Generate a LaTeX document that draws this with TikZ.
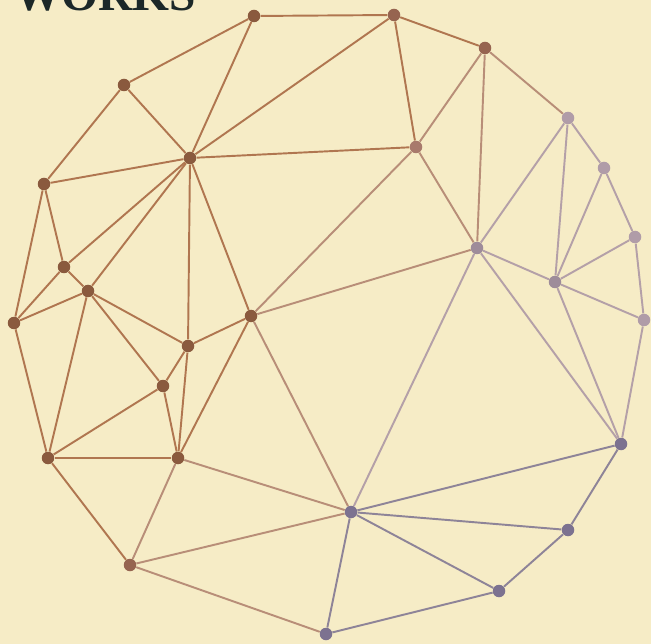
\documentclass[tikz,border=0pt]{standalone}
\usepackage{fontspec}
\newfontfamily\titlefont{Liberation Serif}
\usepackage{xcolor}
\definecolor{paper}{HTML}{F6ECC6}
\definecolor{ink}{HTML}{1C2828}
% dot colours, left to right
\definecolor{dotbrown}{HTML}{8A5A3E}
\definecolor{dotrust}{HTML}{966450}
\definecolor{dotrose}{HTML}{A87A6C}
\definecolor{dotmauve}{HTML}{9E8C9A}
\definecolor{dotpale}{HTML}{B09CA8}
\definecolor{dotslate}{HTML}{7C7290}
% line colours
\definecolor{linebrown}{HTML}{B07650}
\definecolor{linetan}{HTML}{B88E78}
\definecolor{linemauve}{HTML}{B4A0A8}
\definecolor{lineslate}{HTML}{8E8498}

\begin{document}
\begin{tikzpicture}[
    x=0.02cm, y=-0.02cm,
    dot/.style={circle, inner sep=0pt, minimum size=0.25cm, fill=#1},
    link/.style={line width=1.1pt, draw=#1}
]
\clip (0,0) rectangle (651,644);
\fill[paper] (0,0) rectangle (651,644);
\node[anchor=base west, inner sep=0pt, text=ink, font=\titlefont\bfseries\fontsize{27}{27}\selectfont] (heading) at (14,11) {WORKS};

% left part
\node[dot=dotbrown] (a) at (254,16) {};
\node[dot=dotrust] (b) at (394,15) {};
\node[dot=dotrust] (c) at (485,48) {};
\node[dot=dotbrown] (d) at (124,85) {};
\node[dot=dotbrown] (e) at (190,158) {};
\node[dot=dotrose] (f) at (416,147) {};
\node[dot=dotbrown] (k) at (44,184) {};
\node[dot=dotbrown] (n) at (64,267) {};
\node[dot=dotbrown] (o) at (88,291) {};
\node[dot=dotbrown] (p) at (14,323) {};
\node[dot=dotbrown] (q) at (251,316) {};
\node[dot=dotbrown] (r) at (188,346) {};
\node[dot=dotbrown] (s) at (163,386) {};
\node[dot=dotbrown] (t) at (48,458) {};
\node[dot=dotbrown] (u) at (178,458) {};
\node[dot=dotrust] (y) at (130,565) {};
% right part
\node[dot=dotpale] (g) at (568,118) {};
\node[dot=dotpale] (h) at (604,168) {};
\node[dot=dotpale] (i) at (635,237) {};
\node[dot=dotpale] (j) at (644,320) {};
\node[dot=dotmauve] (l) at (477,248) {};
\node[dot=dotmauve] (m) at (555,282) {};
\node[dot=dotslate] (v) at (621,444) {};
\node[dot=dotslate] (w) at (351,512) {};
\node[dot=dotslate] (x) at (568,530) {};
\node[dot=dotslate] (z) at (499,591) {};
\node[dot=dotslate] (bb) at (326,634) {};

% links
\foreach \from/\to in {a/b, a/d, a/e, e/b, d/e, d/k, k/e, k/n, k/p, n/e, n/o, n/p,
    o/e, o/p, o/t, o/s, o/r, e/r, e/q, q/r, p/t, t/s, t/u, t/y, r/s, s/u, r/u,
    q/u, e/f, b/c, b/f}
  \draw[link=linebrown] (\from) -- (\to);
\foreach \from/\to in {c/f, f/q, q/l, f/l, c/l, q/w, u/w, y/w, y/bb, c/g, u/y}
  \draw[link=linetan] (\from) -- (\to);
\foreach \from/\to in {g/h, h/i, i/j, g/l, g/m, h/m, i/m, m/j, l/m, l/v, m/v, w/l, j/v}
  \draw[link=linemauve] (\from) -- (\to);
\foreach \from/\to in {w/v, w/x, w/z, w/bb, v/x, x/z, z/bb}
  \draw[link=lineslate] (\from) -- (\to);
\end{tikzpicture}
\end{document}
